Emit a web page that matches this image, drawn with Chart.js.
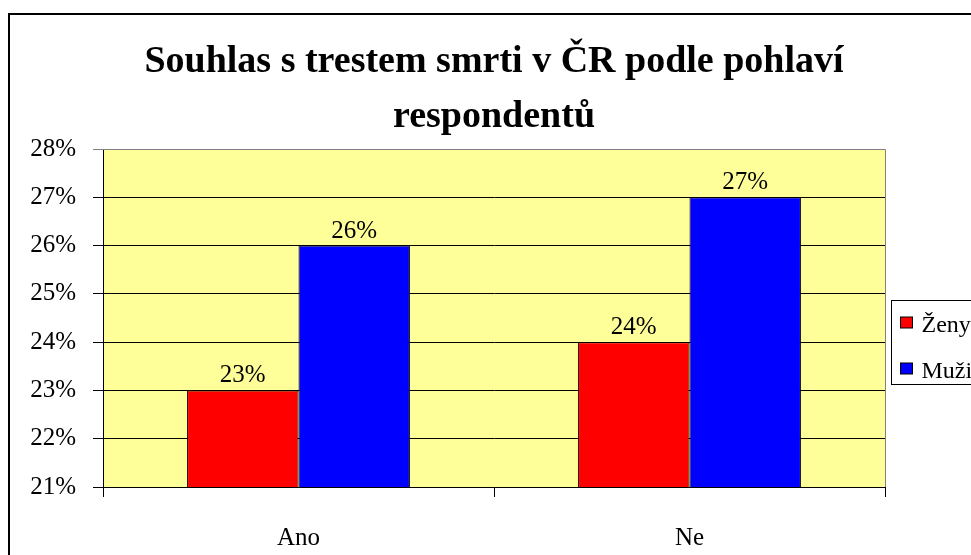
<!DOCTYPE html>
<html>
<head>
<meta charset="utf-8">
<script src="https://cdn.jsdelivr.net/npm/chart.js@4.4.0/dist/chart.umd.min.js"></script>
<style>
    html, body { margin: 0; padding: 0; background: #fff; overflow: hidden; }
    #frame { position: absolute; left: 8px; top: 13px; width: 1200px; height: 800px; border: 2px solid #000; }
    #chart { position: absolute; left: 0; top: 0; }
</style>
</head>
<body>
<div id="frame"></div>
<canvas id="chart" width="971" height="555"></canvas>
<script>
const categories = ['Ano', 'Ne'];
const seriesLabels = ['Ženy', 'Muži'];
const zenyValues = [23, 24];
const muziValues = [26, 27];
const yMin = 21;
const yMax = 28;
const titleLines = ['Souhlas s trestem smrti v ČR podle pohlaví', 'respondentů'];

const serif = '"Liberation Serif", "Times New Roman", serif';

// yellow plot area with grey frame
const plotArea = {
    id: 'plotArea',
    beforeDatasetsDraw(chart) {
        const a = chart.chartArea;
        const ctx = chart.ctx;
        ctx.save();
        ctx.strokeStyle = '#808080';
        ctx.lineWidth = 1;
        ctx.beginPath();
        ctx.moveTo(a.left, a.top + 0.5);
        ctx.lineTo(a.right + 0.5, a.top + 0.5);
        ctx.lineTo(a.right + 0.5, a.bottom);
        ctx.stroke();
        ctx.restore();
    },
    beforeDraw(chart) {
        const a = chart.chartArea;
        const ctx = chart.ctx;
        ctx.save();
        ctx.fillStyle = '#FFFF99';
        ctx.fillRect(a.left, a.top, a.right - a.left, a.bottom - a.top);
        ctx.restore();
    }
};

// value labels above bars
const valueLabels = {
    id: 'valueLabels',
    afterDatasetsDraw(chart) {
        const ctx = chart.ctx;
        ctx.save();
        ctx.font = '25px ' + serif;
        ctx.fillStyle = '#000';
        ctx.textAlign = 'center';
        ctx.textBaseline = 'alphabetic';
        chart.data.datasets.forEach((ds, i) => {
            chart.getDatasetMeta(i).data.forEach((bar, j) => {
                ctx.fillText(ds.data[j] + '%', bar.x, bar.y - 8);
            });
        });
        ctx.restore();
    }
};

// boxed legend on the right, cut by the edge like the original
const boxLegend = {
    id: 'boxLegend',
    afterDraw(chart) {
        const ctx = chart.ctx;
        const left = 891.5, top = 300.5;
        ctx.save();
        ctx.strokeStyle = '#000';
        ctx.lineWidth = 1;
        ctx.strokeRect(left, top, 120, 84);
        ctx.font = '24px ' + serif;
        ctx.textBaseline = 'alphabetic';
        chart.data.datasets.forEach((ds, i) => {
            const y = top + 16.5 + i * 46;
            ctx.fillStyle = ds.backgroundColor;
            ctx.fillRect(left + 9, y, 12, 11);
            ctx.strokeRect(left + 9, y, 12, 11);
            ctx.fillStyle = '#000';
            ctx.fillText(ds.label, left + 30, y + 14.5);
        });
        ctx.restore();
    }
};

const ctx = document.getElementById('chart').getContext('2d');
new Chart(ctx, {
    type: 'bar',
    data: {
        labels: categories,
        datasets: [{
            label: seriesLabels[0],
            data: zenyValues,
            backgroundColor: '#FF0000',
            borderColor: '#000',
            borderWidth: 1
        }, {
            label: seriesLabels[1],
            data: muziValues,
            backgroundColor: '#0000FF',
            borderColor: '#000',
            borderWidth: 1
        }]
    },
    options: {
        responsive: false,
        animation: false,
        devicePixelRatio: 1,
        layout: { padding: { left: 0, right: 86, top: 0, bottom: 0 } },
        datasets: { bar: { categoryPercentage: 0.57, barPercentage: 1.0 } },
        plugins: {
            legend: { display: false },
            tooltip: { enabled: false },
            title: {
                display: true,
                fullSize: false,
                text: titleLines,
                color: '#000',
                font: { family: serif, size: 38, weight: 'bold', lineHeight: 55 / 38 },
                padding: { top: 35, bottom: 4 }
            }
        },
        scales: {
            x: {
                offset: true,
                grid: { drawOnChartArea: false, drawTicks: true, tickLength: 10, color: '#000' },
                border: { color: '#000', width: 1 },
                ticks: { color: '#000', padding: 26, font: { family: serif, size: 25 } },
                afterFit(scale) { scale.height = 68; }
            },
            y: {
                min: yMin,
                max: yMax,
                grid: {
                    color: c => (c.tick && c.tick.value === yMax ? '#808080' : '#000'),
                    tickLength: 10
                },
                border: { color: '#000', width: 1 },
                ticks: {
                    stepSize: 1,
                    color: '#000',
                    padding: 17,
                    font: { family: serif, size: 25 },
                    callback: v => v + '%'
                },
                afterFit(scale) { scale.width = 103; }
            }
        }
    },
    plugins: [plotArea, valueLabels, boxLegend]
});
</script>
</body>
</html>
